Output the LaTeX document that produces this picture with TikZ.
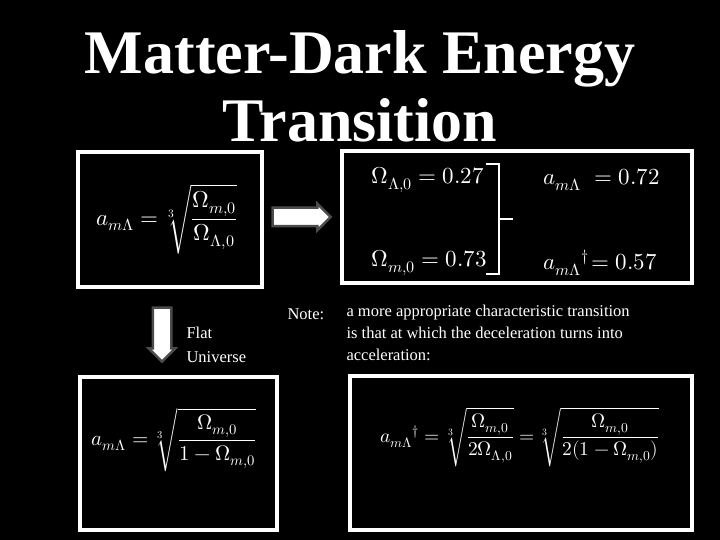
\documentclass[tikz,border=0pt]{standalone}
\usepackage{amsmath}
\usepackage{fontspec}
\usepackage{unicode-math}
\setmainfont{Liberation Serif}
\setmathfont{Latin Modern Math}
\usetikzlibrary{shapes.arrows}
\begin{document}
\begin{tikzpicture}[x=1pt,y=-1pt,
  box/.style={draw=white,line width=3.5pt,fill=black},
  txt/.style={text=white,anchor=west,font=\fontsize{16.5}{22}\selectfont},
  eq/.style={text=white,font=\fontsize{#1}{30}\selectfont},
  blk/.style={single arrow,draw=gray!60!black,line width=2.5pt,fill=white,minimum height=#1,single arrow head extend=4pt,inner sep=8pt}]
\fill[black] (0,0) rectangle (720,540);
\useasboundingbox (0,0) rectangle (720,540);
\node[text=white,font=\bfseries\fontsize{62}{68}\selectfont,align=center] (title) at (360,86) {Matter-Dark Energy\\Transition};
\draw[box] (78,152) rectangle (262,287);
\node[eq=23] (e1) at (167,219) {$a_{m\Lambda}=\sqrt[3]{\dfrac{\Omega_{m,0}}{\Omega_{\Lambda,0}}}$};
\draw[box] (342,151) rectangle (692,283);
\node[eq=23,anchor=west] (o1) at (368,180) {$\Omega_{\Lambda,0}=0.27$};
\node[eq=23,anchor=west] (o2) at (368,263) {$\Omega_{m,0}=0.73$};
\node[eq=23,anchor=west] (a1) at (540,180) {$a_{m\Lambda}\;=0.72$};
\node[eq=23,anchor=west] (a2) at (540,263) {$a_{m\Lambda}{}^{\dagger}\!=0.57$};
\draw[white,line width=2.5pt] (486,164) -- (499,164) -- (499,274) -- (486,274);
\draw[white,line width=2.5pt] (499,219) -- (513,219);
\node[blk=58pt] (ar) at (297,217) {};
\node[blk=54pt,shape border rotate=270] (ad) at (162,330) {};
\node[txt] (flat) at (183,333) {Flat};
\node[txt] (univ) at (183,357) {Universe};
\node[txt] (note) at (284,314) {Note:};
\node[txt,align=left,anchor=north west] (nt) at (343,302) {a more appropriate characteristic transition\\is that at which the deceleration turns into\\acceleration:};
\draw[box] (80,377) rectangle (277,530);
\node[eq=21] (e3) at (174,440) {$a_{m\Lambda}=\sqrt[3]{\dfrac{\Omega_{m,0}}{1-\Omega_{m,0}}}$};
\draw[box] (350,376) rectangle (692,530);
\node[eq=19.5] (e4) at (520,437) {$a_{m\Lambda}{}^{\dagger}=\sqrt[3]{\dfrac{\Omega_{m,0}}{2\Omega_{\Lambda,0}}}=\sqrt[3]{\dfrac{\Omega_{m,0}}{2(1-\Omega_{m,0})}}$};
\end{tikzpicture}
\end{document}
